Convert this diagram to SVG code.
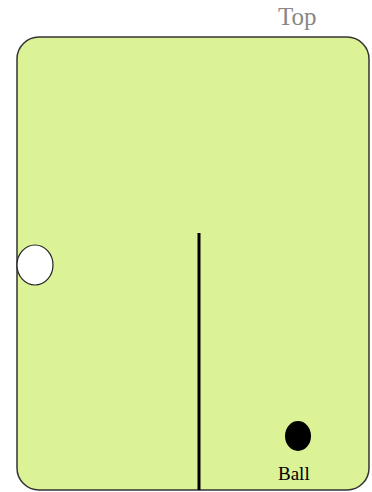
<svg xmlns="http://www.w3.org/2000/svg" width="372" height="492" viewBox="0 0 372 492">
<style>
.lbl{font-family:"Liberation Serif","DejaVu Serif",serif}
</style>
<rect width="372" height="492" fill="#ffffff"/>
<g id="board">
<rect x="17" y="37" width="352" height="453" rx="22" ry="22" fill="#dcf296" stroke="#333333" stroke-width="1.5"/>
</g>
<g id="top-label"><text class="lbl" x="278" y="25" font-size="25" fill="#888888">Top</text></g>
<g id="hole"><ellipse cx="35" cy="265" rx="18" ry="20" fill="#ffffff" stroke="#222222" stroke-width="1.2"/></g>
<g id="wall"><line x1="199" y1="233" x2="199" y2="490" stroke="#000000" stroke-width="3"/></g>
<g id="ball"><ellipse cx="298" cy="436" rx="13" ry="15" fill="#000000"/>
<text class="lbl" x="278" y="480" font-size="19" fill="#000000">Ball</text></g>
</svg>
